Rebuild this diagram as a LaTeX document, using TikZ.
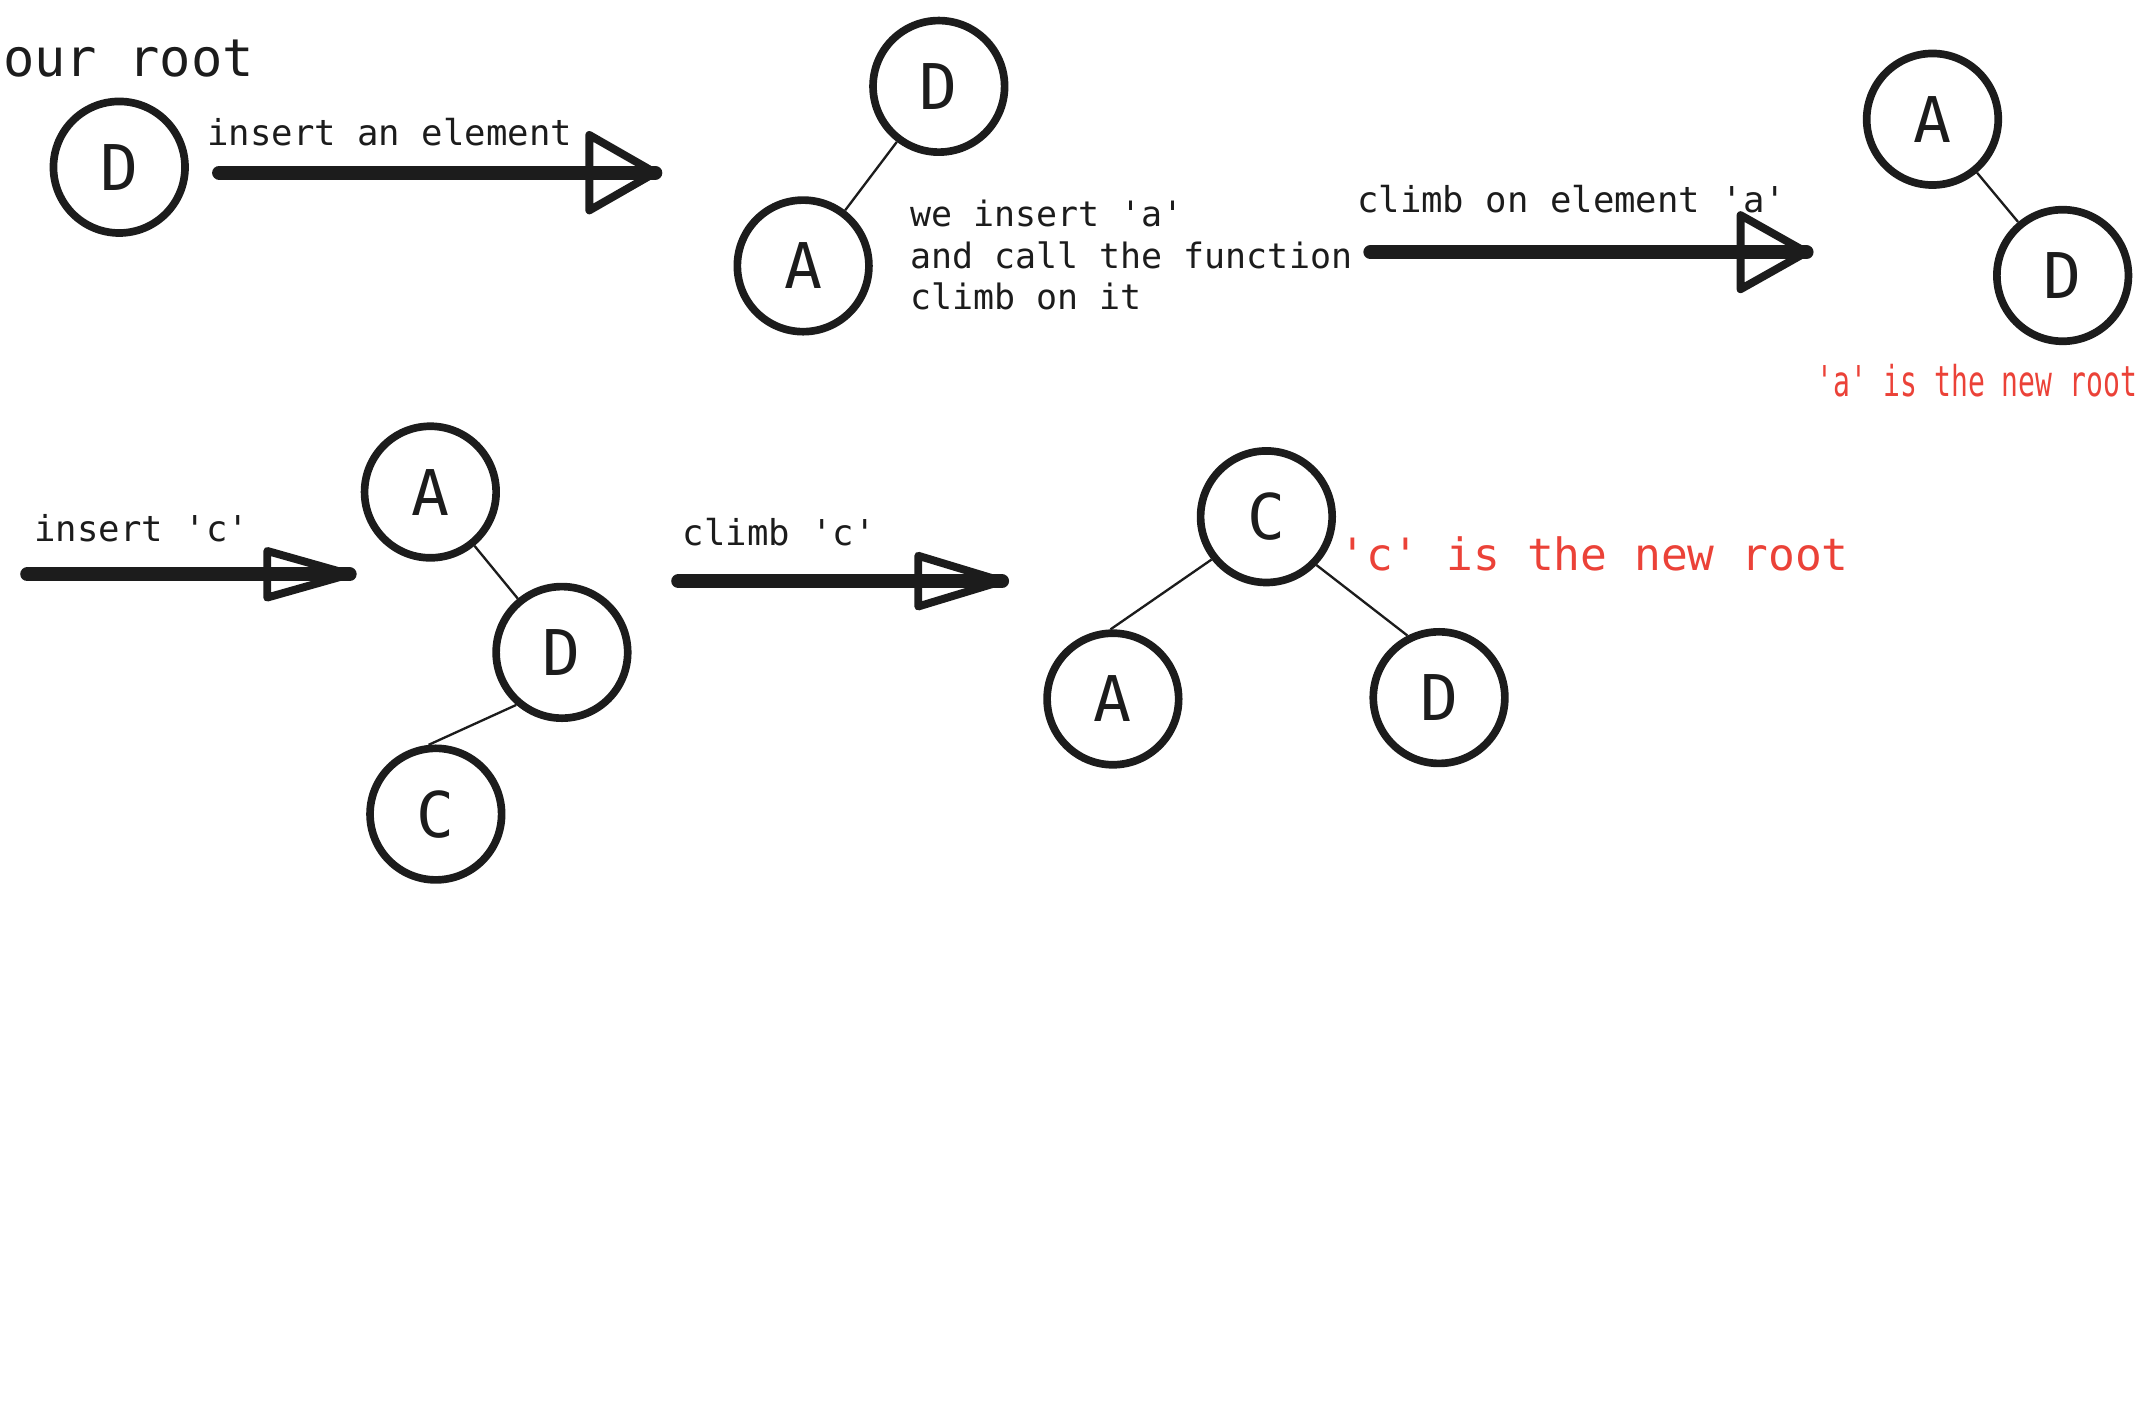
\documentclass[tikz,border=0pt]{standalone}
\usepackage{fontspec}
\newfontfamily\monofont{DejaVu Sans Mono}
\newfontfamily\narrowmono[FakeStretch=0.66]{DejaVu Sans Mono}
\definecolor{ink}{RGB}{28,28,28}
\definecolor{redtxt}{RGB}{235,66,56}
\newcommand\fatarrow[4]{%
  \draw[shaftline] (#1) -- (#2);
  \draw[headline] ([xshift=-#3,yshift=-#4]#2) -- (#2) -- ([xshift=-#3,yshift=#4]#2) -- cycle;
}
\begin{document}
\begin{tikzpicture}[x=1pt,y=-1pt,
  treenode/.style={circle,draw=ink,line width=5.6pt,minimum size=96pt,inner sep=0pt,
    font=\monofont\fontsize{46}{46}\selectfont,text=ink},
  treeedge/.style={draw=ink,line width=1.7pt},
  shaftline/.style={draw=ink,line width=10.5pt,line cap=round},
  headline/.style={draw=ink,line width=5.8pt,line join=round,line cap=round},
  lbl/.style={anchor=base west,inner sep=0pt,text=ink,font=\monofont\fontsize{26}{30}\selectfont},
]
\useasboundingbox (0,0) rectangle (1568,1023.7);

% row 1
\node[lbl,font=\monofont\fontsize{38}{40}\selectfont] (ourroot) at (2,56) {our root};
\node[treenode] (d1) at (87,122) {D};
\node[lbl] (t1) at (151,106) {insert an element};
\coordinate (a1s) at (160,126);
\coordinate (a1t) at (478,126);
\fatarrow{a1s}{a1t}{48pt}{27.5pt}

\node[treenode] (d2) at (685,63) {D};
\node[treenode] (a2) at (586,194) {A};
\draw[treeedge] (d2) -- (a2);
\node[lbl,align=left,font=\monofont\fontsize{25.5}{30.5}\selectfont,anchor=north west] (t2) at (664,145.5) {we insert 'a'\\and call the function\\climb on it};

\node[lbl] (t3) at (990,155) {climb on element 'a'};
\coordinate (a2s) at (1000,184);
\coordinate (a2t) at (1318,184);
\fatarrow{a2s}{a2t}{48pt}{27pt}

\node[treenode] (a3) at (1410,87) {A};
\node[treenode] (d3) at (1505,201) {D};
\draw[treeedge] (a3) -- (d3);
\node[lbl,text=redtxt,font=\narrowmono\fontsize{31}{31}\selectfont] (t4) at (1325,289) {'a' is the new root};

% row 2
\node[lbl] (t5) at (25,395) {insert 'c'};
\coordinate (a3s) at (20,419);
\coordinate (a3t) at (255,419);
\fatarrow{a3s}{a3t}{60pt}{17pt}

\node[treenode] (a4) at (314,359) {A};
\node[treenode] (d4) at (410,476) {D};
\node[treenode] (c4) at (318,594) {C};
\draw[treeedge] (a4) -- (d4);
\draw[treeedge] (d4.229) -- (c4.96);

\node[lbl] (t6) at (498,398) {climb 'c'};
\coordinate (a4s) at (495,424);
\coordinate (a4t) at (731,424);
\fatarrow{a4s}{a4t}{61pt}{18.5pt}

\node[treenode] (c5) at (924,377) {C};
\node[treenode] (a5) at (812,510) {A};
\node[treenode] (d5) at (1050,509) {D};
\draw[treeedge] (c5.218) -- (a5.92);
\draw[treeedge] (c5.316) -- (d5.117);
\node[lbl,text=redtxt,font=\monofont\fontsize{32.5}{32.5}\selectfont] (t7) at (977,416) {'c' is the new root};
\end{tikzpicture}
\end{document}
